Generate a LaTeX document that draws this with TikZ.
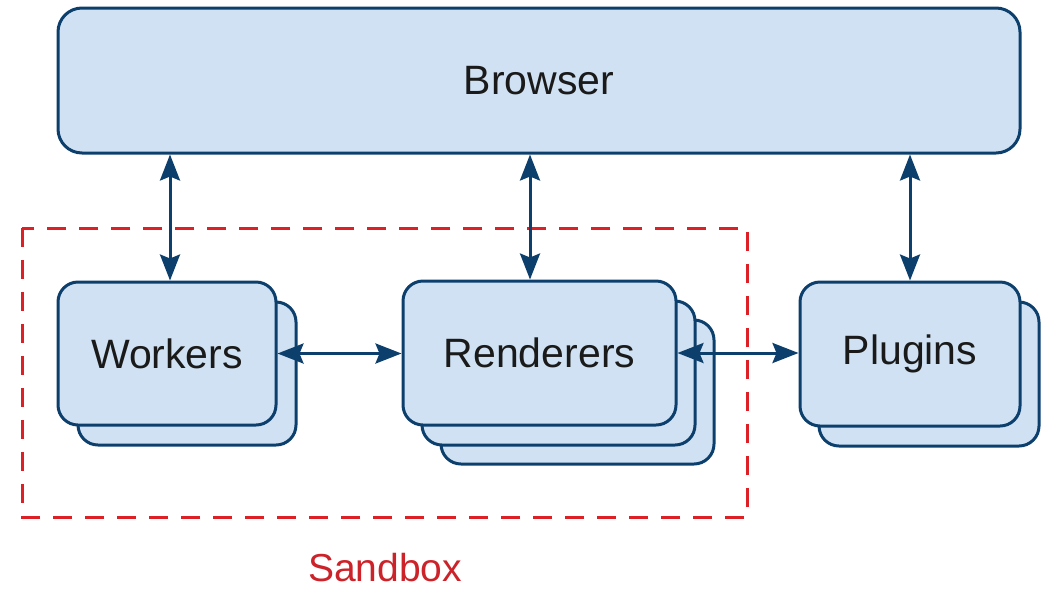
\documentclass[tikz,border=0pt]{standalone}
\usepackage{fontspec}
\setmainfont{Liberation Sans}
\usetikzlibrary{arrows.meta}
\definecolor{boxfill}{HTML}{CFE1F2}
\definecolor{boxline}{HTML}{0D3F6D}
\definecolor{sandred}{HTML}{DD1F26}
\definecolor{labelred}{HTML}{CC2229}
\definecolor{txt}{HTML}{1A1A1A}
\tikzset{
  box/.style={draw=boxline, fill=boxfill, line width=3pt, rounded corners=20pt,
    inner sep=0pt, text=txt, font=\fontsize{41}{45}\selectfont},
  arr/.style={draw=boxline, line width=3pt,
    {Stealth[length=26pt,width=20pt,inset=4pt]}-{Stealth[length=26pt,width=20pt,inset=4pt]}},
  sandbox/.style={draw=sandred, line width=3pt, dash pattern=on 19pt off 13pt},
}
\begin{document}
\begin{tikzpicture}[x=1pt,y=-1pt]
\useasboundingbox (0,0) rectangle (1043,590);
% sandbox
\draw[sandbox] (22,228) rectangle (747,517);
\node[text=labelred, inner sep=0pt, anchor=base, font=\fontsize{39}{39}\selectfont] (sblabel) at (385,581) {Sandbox};
% browser
\node[box, rounded corners=24pt, minimum width=962pt, minimum height=145pt] (browser) at (539,80.5) {Browser};
% workers
\node[box, minimum width=218pt, minimum height=143pt] (workersb) at (187,373.5) {};
\node[box, minimum width=218pt, minimum height=143pt] (workers) at (167,353.5) {Workers};
% renderers
\node[box, minimum width=273pt, minimum height=144pt] (renderersc) at (577.5,392) {};
\node[box, minimum width=273pt, minimum height=144pt] (renderersb) at (558.5,373) {};
\node[box, minimum width=273pt, minimum height=144pt] (renderers) at (539.5,353) {Renderers};
% plugins
\node[box, minimum width=220pt, minimum height=144pt] (pluginsb) at (929,374) {};
\node[box, minimum width=220pt, minimum height=144pt] (plugins) at (910,354) {Plugins};
% connectors
\draw[arr] ([xshift=3pt]workers.north |- browser.south) -- ([xshift=3pt]workers.north);
\draw[arr] ([xshift=-9.5pt]renderers.north |- browser.south) -- ([xshift=-9.5pt]renderers.north);
\draw[arr] (plugins.north |- browser.south) -- (plugins.north);
\draw[arr] (workers.east) -- (renderers.west |- workers.east);
\draw[arr] (renderers.east) -- (plugins.west |- renderers.east);
\end{tikzpicture}
\end{document}
